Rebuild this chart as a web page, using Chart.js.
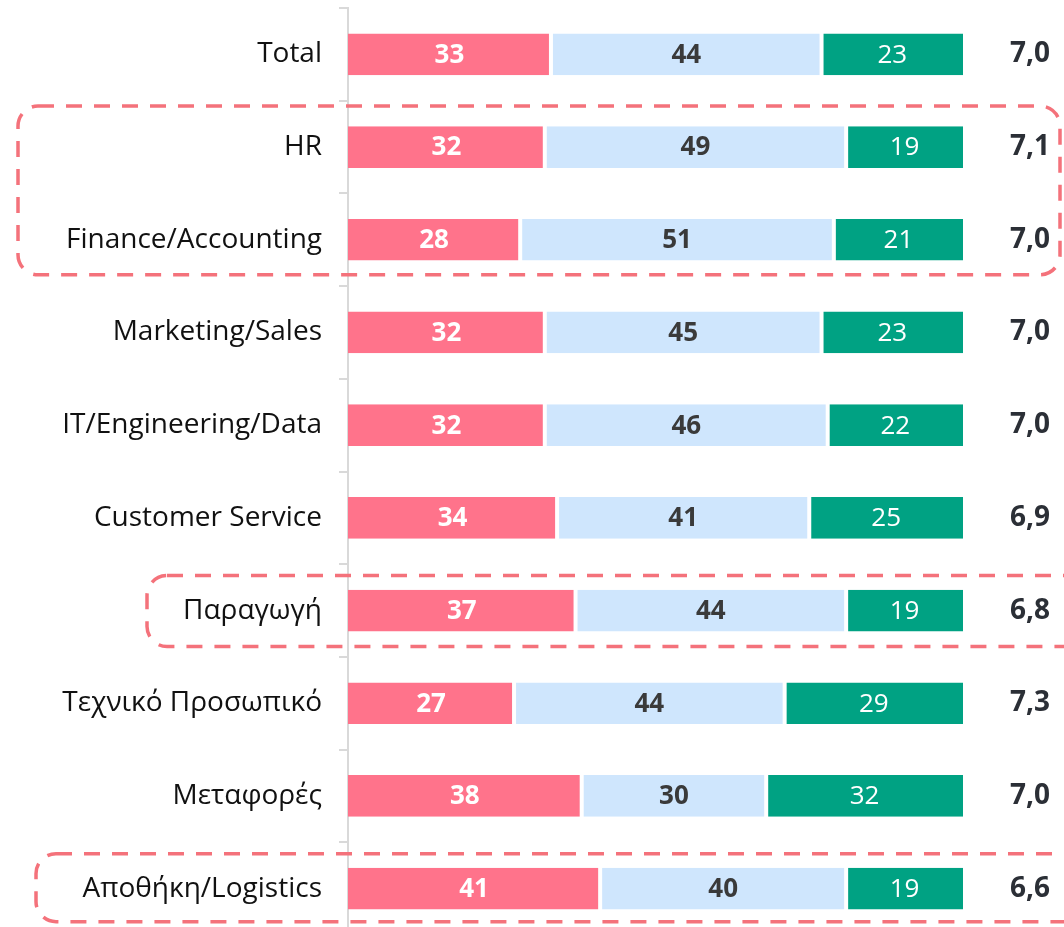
<!DOCTYPE html>
<html>
<head>
<meta charset="utf-8">
<script src="https://cdn.jsdelivr.net/npm/chart.js@4"></script>
<style>
  html, body { margin: 0; padding: 0; background: #fff; overflow: hidden; }
  #wrap { position: relative; width: 1064px; height: 935px; }
</style>
</head>
<body>
<div id="wrap"><canvas id="chart"></canvas></div>
<script>
var categories = ['Total', 'HR', 'Finance/Accounting', 'Marketing/Sales', 'IT/Engineering/Data',
  'Customer Service', 'Παραγωγή', 'Τεχνικό Προσωπικό', 'Μεταφορές', 'Αποθήκη/Logistics'];
var lowValues = [33, 32, 28, 32, 32, 34, 37, 27, 38, 41];
var midValues = [44, 49, 51, 45, 46, 41, 44, 44, 30, 40];
var highValues = [23, 19, 21, 23, 22, 25, 19, 29, 32, 19];
var scores = ['7,0', '7,1', '7,0', '7,0', '7,0', '6,9', '6,8', '7,3', '7,0', '6,6'];

var FONT = 'Open Sans';

// labels inside the bars
var barLabels = {
    id: 'barLabels',
    afterDatasetsDraw: function(chart) {
        var ctx = chart.ctx;
        ctx.save();
        ctx.textAlign = 'center';
        ctx.textBaseline = 'middle';
        chart.data.datasets.forEach(function(ds, i) {
            var meta = chart.getDatasetMeta(i);
            ctx.fillStyle = ds.labelColor;
            ctx.font = ds.labelWeight + ' 26px ' + FONT;
            meta.data.forEach(function(bar, j) {
                var p = bar.getCenterPoint();
                ctx.fillText(ds.data[j], p.x, p.y + 1);
            });
        });
        ctx.restore();
    }
};

// dashed rounded boxes round some groups
var groupBoxes = {
    id: 'groupBoxes',
    afterDraw: function(chart, args, opts) {
        var ctx = chart.ctx;
        var y = chart.scales.y;
        ctx.save();
        ctx.strokeStyle = '#f4727b';
        ctx.lineWidth = 3.5;
        ctx.setLineDash([16, 12]);
        opts.boxes.forEach(function(b) {
            var top = y.getPixelForValue(b.from) - b.up;
            var bottom = y.getPixelForValue(b.to) + b.down;
            ctx.beginPath();
            ctx.roundRect(b.left, top, b.right - b.left, bottom - top, 20);
            ctx.stroke();
        });
        ctx.restore();
    }
};

var ctx = document.getElementById('chart').getContext('2d');

new Chart(ctx, {
    type: 'bar',
    data: {
        labels: categories,
        datasets: [{
            data: lowValues,
            backgroundColor: '#ff738b',
            labelColor: '#ffffff',
            labelWeight: 'bold',
            borderColor: '#ffffff',
            borderWidth: { left: 0, right: 2, top: 0, bottom: 0 }
        }, {
            data: midValues,
            backgroundColor: '#cfe6fd',
            labelColor: '#3a3a3a',
            labelWeight: 'bold',
            borderColor: '#ffffff',
            borderWidth: { left: 2, right: 2, top: 0, bottom: 0 }
        }, {
            data: highValues,
            backgroundColor: '#00a283',
            labelColor: '#ffffff',
            labelWeight: 'normal',
            borderColor: '#ffffff',
            borderWidth: { left: 2, right: 0, top: 0, bottom: 0 }
        }]
    },
    options: {
        indexAxis: 'y',
        responsive: true,
        maintainAspectRatio: false,
        animation: false,
        layout: { padding: { top: 8, bottom: 0, left: 0, right: 0 } },
        datasets: {
            bar: {
                barPercentage: 0.45,
                categoryPercentage: 1,
                borderSkipped: false
            }
        },
        plugins: {
            legend: { display: false },
            tooltip: { enabled: false },
            groupBoxes: {
                boxes: [
                    { from: 1, to: 2, up: 41, down: 35, left: 18, right: 1060 },
                    { from: 6, to: 6, up: 35, down: 36, left: 147, right: 1110 },
                    { from: 9, to: 9, up: 35, down: 33, left: 36, right: 1110 }
                ]
            }
        },
        scales: {
            x: {
                stacked: true,
                min: 0,
                max: 100,
                display: false
            },
            y: {
                stacked: true,
                position: 'left',
                afterFit: function(s) {
                    s.width = 348;
                    s.paddingTop = 0;
                    s.paddingBottom = 0;
                },
                grid: {
                    drawOnChartArea: false,
                    offset: true,
                    tickLength: 9,
                    color: '#d9d9d9',
                    lineWidth: 2
                },
                border: { display: true, color: '#d9d9d9', width: 2 },
                ticks: {
                    color: '#111111',
                    padding: 17,
                    font: { family: FONT, size: 28 }
                }
            },
            y2: {
                type: 'category',
                labels: scores,
                position: 'right',
                offset: true,
                afterFit: function(s) {
                    s.width = 101;
                    s.paddingTop = 0;
                    s.paddingBottom = 0;
                },
                grid: { display: false },
                border: { display: false },
                ticks: {
                    color: '#2b2f36',
                    padding: 39,
                    font: { family: FONT, size: 28, weight: 'bold' }
                }
            }
        }
    },
    plugins: [barLabels, groupBoxes]
});
</script>
</body>
</html>
